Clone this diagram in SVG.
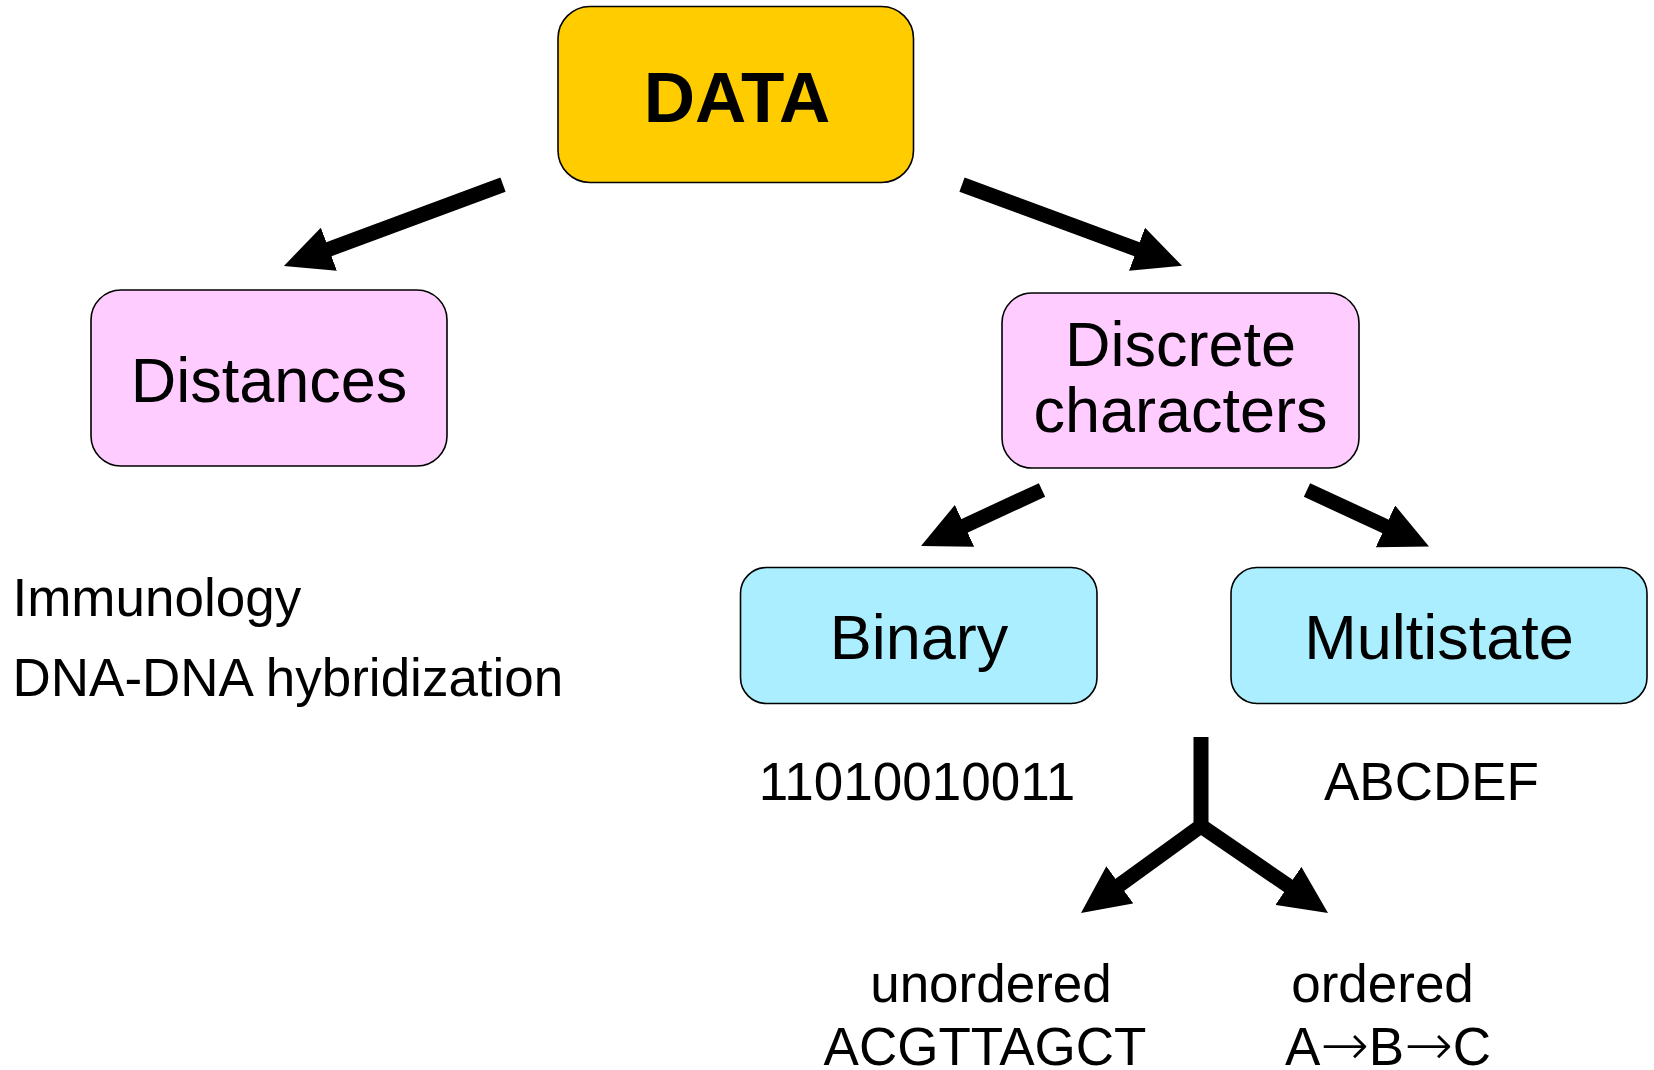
<svg xmlns="http://www.w3.org/2000/svg" width="1654" height="1070" viewBox="0 0 1654 1070">
<style>
.box{stroke:#000;stroke-width:1.6}
.t{font-family:"Liberation Sans",Arial,sans-serif;fill:#000}
.bt{font-size:63px;text-anchor:middle}
.st{font-size:53px}
.c{text-anchor:middle}
.ar{font-family:"DejaVu Sans",sans-serif;font-size:58px;font-weight:200}
.con{fill:none;stroke:#000;stroke-width:15;marker-end:url(#ah)}
</style>
<defs>
<marker id="ah" markerUnits="userSpaceOnUse" viewBox="0 0 48 46" refX="8" refY="23" markerWidth="48" markerHeight="46" orient="auto">
<path d="M0,0 L48,23 L0,46 Z" fill="#000"/>
</marker>
</defs>
<g id="connectors">
<path class="con" d="M503,184.6 L321.4,252"/>
<path class="con" d="M962,184.6 L1144.5,252"/>
<path class="con" d="M1042,490 L957.3,529.2"/>
<path class="con" d="M1307,490 L1392.7,529.7"/>
<path class="con" d="M1201,737 L1201,826 L1113.4,889.5" style="stroke-linejoin:miter"/>
<path class="con" d="M1201,826 L1295,890.4"/>
</g>
<g id="data">
<rect class="box" x="558" y="6.5" width="355.5" height="176" rx="32" ry="32" fill="#FFCC00"/>
<text class="t" x="737" y="122" font-size="71" font-weight="bold" text-anchor="middle">DATA</text>
</g>
<g id="distances">
<rect class="box" x="91" y="290" width="356" height="176" rx="30" ry="30" fill="#FFCCFF"/>
<text class="t bt" x="269" y="402">Distances</text>
</g>
<g id="discrete">
<rect class="box" x="1002" y="293" width="357" height="175" rx="30" ry="30" fill="#FFCCFF"/>
<text class="t bt" x="1180.5" y="366">Discrete</text>
<text class="t bt" x="1180.5" y="431.5">characters</text>
</g>
<g id="binary">
<rect class="box" x="740.5" y="567.5" width="356.5" height="136" rx="26" ry="26" fill="#AAEEFF"/>
<text class="t bt" x="919" y="659">Binary</text>
</g>
<g id="multistate">
<rect class="box" x="1231" y="567.5" width="416" height="136" rx="26" ry="26" fill="#AAEEFF"/>
<text class="t bt" x="1439" y="659">Multistate</text>
</g>
<g id="labels">
<text class="t st" x="12.5" y="616">Immunology</text>
<text class="t st" x="12.5" y="696">DNA-DNA hybridization</text>
<text class="t st c" x="917" y="800">11010010011</text>
<text class="t st c" x="1431.5" y="800">ABCDEF</text>
<text class="t st c" x="991" y="1002">unordered</text>
<text class="t st c" x="985" y="1065">ACGTTAGCT</text>
<text class="t st c" x="1382.5" y="1002">ordered</text>
<text class="t st c" x="1388" y="1065">A<tspan class="ar">→</tspan>B<tspan class="ar">→</tspan>C</text>
</g>
</svg>
